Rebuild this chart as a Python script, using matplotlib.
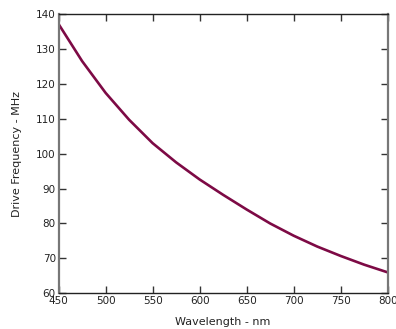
import matplotlib

matplotlib.use("Agg")
import matplotlib.pyplot as plt

# AOTF tuning curve
wavelength_nm = [450, 475, 500, 525, 550, 575, 600, 625, 650, 675, 700, 725, 750, 775, 800]
drive_freq_mhz = [137.1, 126.5, 117.4, 109.7, 103.0, 97.5, 92.6, 88.2, 84.0, 80.0,
                  76.5, 73.4, 70.7, 68.2, 66.0]

x_ticks = [450, 500, 550, 600, 650, 700, 750, 800]
y_ticks = [60, 70, 80, 90, 100, 110, 120, 130, 140]

fig = plt.figure(figsize=(3.96, 3.29), dpi=100)
ax = fig.add_axes([0.148, 0.1085, 0.831, 0.849])

ax.plot(wavelength_nm, drive_freq_mhz, color="#7d0a45", linewidth=1.9)

ax.set_xlim(450, 800)
ax.set_ylim(60, 140)
ax.set_xticks(x_ticks)
ax.set_yticks(y_ticks)
ax.tick_params(direction="in", length=5, width=1, top=True, right=True,
               labelsize=7.5, labelcolor="#222222", color="#333333", pad=2)

for side in ("left", "right"):
    ax.spines[side].set_color("#777777")
    ax.spines[side].set_linewidth(1.6)
for side in ("top", "bottom"):
    ax.spines[side].set_color("#222222")
    ax.spines[side].set_linewidth(1.0)

ax.set_xlabel("Wavelength - nm", fontsize=8, color="#222222", labelpad=8)
ax.set_ylabel("Drive Frequency - MHz", fontsize=8, color="#222222", labelpad=10)

fig.savefig("out.png", dpi=100)
plt.close(fig)
